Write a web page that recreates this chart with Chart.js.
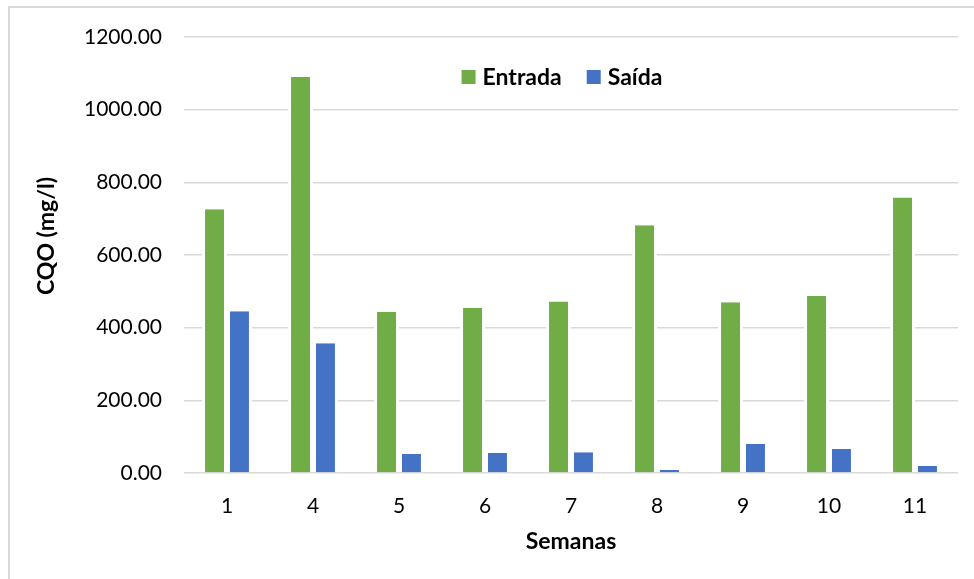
<!DOCTYPE html>
<html>
<head>
<meta charset="utf-8">
<script src="https://cdn.jsdelivr.net/npm/chart.js@4"></script>
<style>
  body { margin: 0; background: #fff; }
  #frame { position: absolute; left: 8px; top: 6px; width: 1000px; height: 600px; border: 2px solid #d9d9d9; }
  #myChart { position: absolute; left: 0; top: 0; }
</style>
</head>
<body>
<div id="frame"></div>
<canvas id="myChart" width="974" height="579"></canvas>
<script>
// weeks and COD values (mg/l)
let semanas = ['1', '4', '5', '6', '7', '8', '9', '10', '11'];
let entrada = [726, 1090, 444, 454, 472, 682, 470, 487, 758];
let saida = [445, 357, 52, 55, 57, 8, 80, 66, 19];
let yTicks = [0, 200, 400, 600, 800, 1000, 1200];

let fontName = 'Lato';

// legend drawn inside the plot, like the excel one
let innerLegend = {
	id: 'innerLegend',
	afterDraw: function (chart) {
		let ctx = chart.ctx;
		let sets = chart.data.datasets;
		ctx.save();
		ctx.font = 'bold 23px ' + fontName;
		ctx.textBaseline = 'middle';
		let box = 14, gap = 7, space = 25;
		let total = 0;
		for (let i = 0; i < sets.length; i++) {
			total += box + gap + ctx.measureText(sets[i].label).width;
			if (i < sets.length - 1) total += space;
		}
		let x = 562 - total / 2;
		let y = 77;
		for (let i = 0; i < sets.length; i++) {
			ctx.fillStyle = sets[i].backgroundColor;
			ctx.fillRect(x, y - box / 2, box, box);
			x += box + gap;
			ctx.fillStyle = '#000';
			ctx.fillText(sets[i].label, x, y + 1);
			x += ctx.measureText(sets[i].label).width + space;
		}
		// y axis title
		ctx.translate(47, 236);
		ctx.rotate(-Math.PI / 2);
		ctx.textAlign = 'center';
		ctx.fillText('CQO (mg/l)', 0, 0);
		ctx.restore();
	}
};

let ctx = document.getElementById('myChart').getContext('2d');
let chart = new Chart(ctx, {
	type: 'bar',
	data: {
		labels: semanas,
		datasets: [{
			label: 'Entrada',
			backgroundColor: '#70ad47',
			borderColor: '#fff',
			borderWidth: {left: 3, right: 3, top: 0, bottom: 0},
			data: entrada
		}, {
			label: 'Saída',
			backgroundColor: '#4472c4',
			borderColor: '#fff',
			borderWidth: {left: 3, right: 3, top: 0, bottom: 0},
			data: saida
		}]
	},
	options: {
		responsive: false,
		animation: false,
		layout: { padding: {left: 0, top: 37, right: 16, bottom: 24} },
		datasets: { bar: { categoryPercentage: 0.58, barPercentage: 1 } },
		plugins: {
			legend: { display: false },
			tooltip: { enabled: false }
		},
		scales: {
			x: {
				afterFit: function (scale) { scale.height = 82; },
				grid: { display: false },
				border: { display: false },
				ticks: { color: '#000', font: { family: fontName, size: 21 }, padding: 13 },
				title: {
					display: true,
					text: 'Semanas',
					color: '#000',
					font: { family: fontName, size: 23, weight: 'bold' },
					padding: { top: 14, bottom: 0 }
				}
			},
			y: {
				min: yTicks[0],
				max: yTicks[yTicks.length - 1],
				afterFit: function (scale) { scale.width = 184; },
				afterBuildTicks: function (scale) {
					scale.ticks = yTicks.map(function (v) { return { value: v }; });
				},
				grid: { color: '#d9d9d9', lineWidth: 1.5, drawTicks: false },
				border: { display: false },
				ticks: {
					color: '#000',
					font: { family: fontName, size: 21 },
					padding: 22,
					callback: function (v) { return Number(v).toFixed(2); }
				}
			}
		}
	},
	plugins: [innerLegend]
});
</script>
</body>
</html>
